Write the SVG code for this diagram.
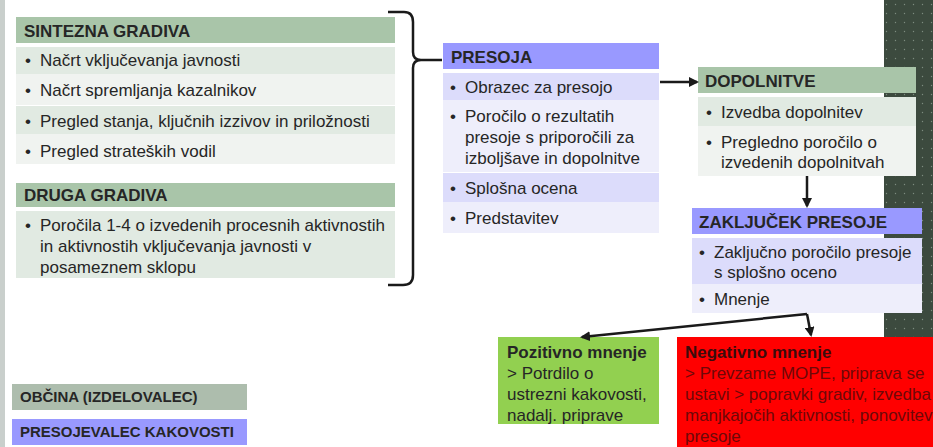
<svg xmlns="http://www.w3.org/2000/svg" width="933" height="447" viewBox="0 0 933 447">
<defs>
<style>
text{font-family:"Liberation Sans",Arial,sans-serif;font-size:17px;fill:#262626}
.h{font-weight:bold;font-size:17px}
.lg{font-weight:bold;font-size:15px}
.gh{fill:#a9c5a9}
.g1{fill:#e1eae2}
.g2{fill:#f0f3f0}
.ph{fill:#9999ff}
.p1{fill:#dcdcfb}
.p2{fill:#eeeefb}
.c{stroke:#1a1a1a;stroke-width:2.5;fill:none}
</style>
<marker id="ah" viewBox="0 0 10 10" refX="8" refY="5" markerWidth="4" markerHeight="4" orient="auto" markerUnits="strokeWidth">
<path d="M0,0 L10,5 L0,10 z" fill="#1a1a1a"/>
</marker>
<pattern id="dots" width="9" height="9" patternUnits="userSpaceOnUse">
<rect width="9" height="9" fill="#3c4a3e"/>
<circle cx="4.5" cy="4.5" r="0.7" fill="#7d8c7f"/>
</pattern>
</defs>
<rect width="933" height="447" fill="#ffffff"/>
<rect x="0" y="0" width="5" height="447" fill="#c9cfcc"/>
<rect x="884" y="0" width="49" height="337" fill="url(#dots)"/>

<g id="sintezna">
<rect class="gh" x="16" y="17" width="379" height="26"/>
<rect class="g1" x="16" y="47" width="379" height="27"/>
<rect class="g2" x="16" y="74" width="379" height="31"/>
<rect class="g1" x="16" y="106" width="379" height="28"/>
<rect class="g2" x="16" y="134" width="379" height="30"/>
<text class="h" x="24" y="37">SINTEZNA GRADIVA</text>
<text y="66"><tspan x="25">•</tspan><tspan x="40">Načrt vključevanja javnosti</tspan></text>
<text y="96"><tspan x="25">•</tspan><tspan x="40">Načrt spremljanja kazalnikov</tspan></text>
<text y="127"><tspan x="25">•</tspan><tspan x="40">Pregled stanja, ključnih izzivov in priložnosti</tspan></text>
<text y="157"><tspan x="25">•</tspan><tspan x="40">Pregled strateških vodil</tspan></text>
</g>

<g id="druga">
<rect class="gh" x="16" y="183" width="379" height="24"/>
<rect class="g1" x="16" y="211" width="379" height="67"/>
<text class="h" x="24" y="201">DRUGA GRADIVA</text>
<text y="231"><tspan x="25">•</tspan><tspan x="40">Poročila 1-4 o izvedenih procesnih aktivnostih</tspan></text>
<text x="40" y="252">in aktivnostih vključevanja javnosti v</text>
<text x="40" y="273">posameznem sklopu</text>
</g>

<g id="presoja">
<rect class="ph" x="443" y="43" width="216" height="26"/>
<rect class="p1" x="443" y="73" width="216" height="27"/>
<rect class="p2" x="443" y="100" width="216" height="72"/>
<rect class="p1" x="443" y="173" width="216" height="29"/>
<rect class="p2" x="443" y="202" width="216" height="31"/>
<text class="h" x="451" y="63">PRESOJA</text>
<text y="93"><tspan x="450">•</tspan><tspan x="465">Obrazec za presojo</tspan></text>
<text y="122"><tspan x="450">•</tspan><tspan x="465">Poročilo o rezultatih</tspan></text>
<text x="465" y="143">presoje s priporočili za</text>
<text x="465" y="164">izboljšave in dopolnitve</text>
<text y="194"><tspan x="450">•</tspan><tspan x="465">Splošna ocena</tspan></text>
<text y="224"><tspan x="450">•</tspan><tspan x="465">Predstavitev</tspan></text>
</g>

<g id="dopolnitve">
<rect class="gh" x="698" y="67" width="218" height="26"/>
<rect class="g1" x="698" y="97" width="218" height="29"/>
<rect class="g2" x="698" y="126" width="218" height="50"/>
<text class="h" x="705" y="87">DOPOLNITVE</text>
<text y="118"><tspan x="706">•</tspan><tspan x="721">Izvedba dopolnitev</tspan></text>
<text y="148"><tspan x="706">•</tspan><tspan x="721">Pregledno poročilo o</tspan></text>
<text x="721" y="168">izvedenih dopolnitvah</text>
</g>

<g id="zakljucek">
<rect class="ph" x="692" y="208" width="230" height="26"/>
<rect class="p1" x="692" y="238" width="230" height="46"/>
<rect class="p2" x="692" y="284" width="230" height="29"/>
<text class="h" x="699" y="228">ZAKLJUČEK PRESOJE</text>
<text y="258"><tspan x="699">•</tspan><tspan x="714">Zaključno poročilo presoje</tspan></text>
<text x="714" y="278">s splošno oceno</text>
<text y="305"><tspan x="699">•</tspan><tspan x="714">Mnenje</tspan></text>
</g>

<g id="pozitivno">
<rect x="498" y="337" width="161" height="87" fill="#92d050"/>
<text class="h" x="507" y="358">Pozitivno mnenje</text>
<text x="507" y="379">&gt; Potrdilo o</text>
<text x="507" y="400">ustrezni kakovosti,</text>
<text x="507" y="421">nadalj. priprave</text>
</g>

<g id="negativno">
<rect x="677" y="337" width="256" height="110" fill="#ff0000"/>
<text class="h" x="685" y="358" style="fill:#3a0c0c">Negativno mnenje</text>
<text x="685" y="379" style="fill:#6e0808">&gt; Prevzame MOPE, priprava se</text>
<text x="685" y="400" style="fill:#6e0808">ustavi &gt; popravki gradiv, izvedba</text>
<text x="685" y="421" style="fill:#6e0808">manjkajočih aktivnosti, ponovitev</text>
<text x="685" y="442" style="fill:#6e0808">presoje</text>
</g>

<g id="legenda">
<rect x="12" y="384" width="235" height="26" fill="#adbdad"/>
<text class="lg" x="20" y="402">OBČINA (IZDELOVALEC)</text>
<rect x="12" y="419" width="235" height="26" fill="#9999ff"/>
<text class="lg" x="20" y="437">PRESOJEVALEC KAKOVOSTI</text>
</g>

<g id="connectors">
<path class="c" d="M388,12 L404,12 Q413,12 413,22 L413,52 Q413,60 421,60 L442,60 M421,60 Q413,60 413,68 L413,275 Q413,285 403,285 L388,285"/>
<line class="c" x1="660" y1="82" x2="697" y2="82" marker-end="url(#ah)"/>
<line class="c" x1="807" y1="176" x2="807" y2="206" marker-end="url(#ah)"/>
<polyline class="c" points="807,314 582,337" marker-end="url(#ah)"/>
<polyline class="c" points="807,314 811,335" marker-end="url(#ah)"/>
</g>
</svg>
